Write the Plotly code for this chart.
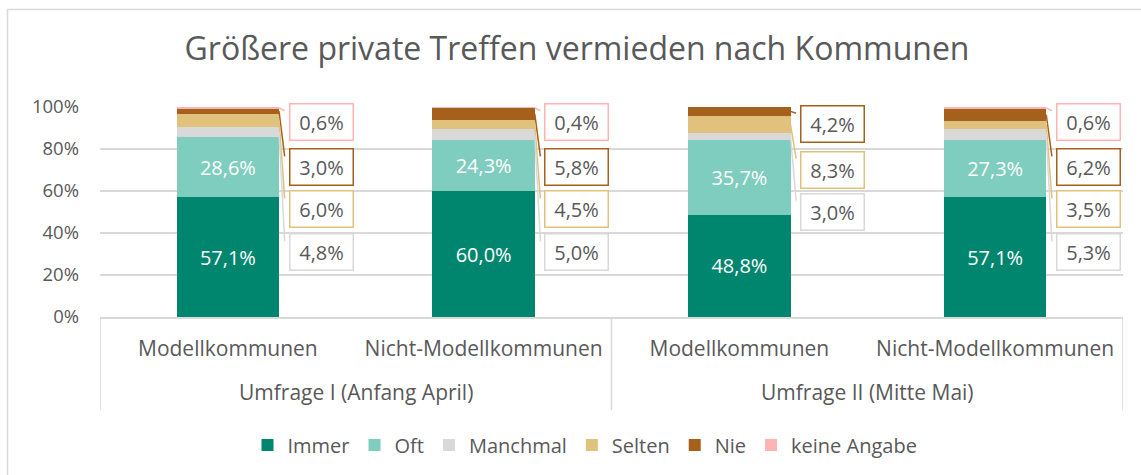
import plotly.graph_objects as go

# ---------------- data ----------------
survey_labels = ["Umfrage I (Anfang April)", "Umfrage II (Mitte Mai)"]
groups = ["Modellkommunen", "Nicht-Modellkommunen",
          "Modellkommunen", "Nicht-Modellkommunen"]
series_names = ["Immer", "Oft", "Manchmal", "Selten", "Nie", "keine Angabe"]
immer = [57.1, 60.0, 48.8, 57.1]
oft = [28.6, 24.3, 35.7, 27.3]
manchmal = [4.8, 5.0, 3.0, 5.3]
selten = [6.0, 4.5, 8.3, 3.5]
nie = [3.0, 5.8, 4.2, 6.2]
keine_angabe = [0.6, 0.4, 0.0, 0.6]
y_ticks = [0, 20, 40, 60, 80, 100]
y_tick_labels = ["0%", "20%", "40%", "60%", "80%", "100%"]

# ---------------- style ----------------
colors = ["#00866E", "#7FCDBE", "#D9D9D9", "#E0C27C", "#A5601B", "#FFB3B3"]
TXT = "#595959"
GRID = "#D9D9D9"
FONT = "Open Sans"
values = [immer, oft, manchmal, selten, nie, keine_angabe]
inside = [True, True, False, False, False, False]
# callout box heights (y in %), top to bottom
slots_default = [93.0, 71.3, 51.3, 30.8]
slots_bar = {2: [91.8, 70.2, 50.2]}
BAR_HALF = 0.2
BOX_DX = 0.365
LINE_END_DX = 0.222
LINE_END_DY = 5.2
xpos = list(range(len(groups)))

# plot-area pixel geometry (for paper-relative decorations)
PL, PR, PT, PB = 100, 1123, 107, 317
PH = PB - PT


def py(pix):
    return (PB - pix) / PH


def px(pix):
    return (pix - PL) / (PR - PL)


def fmt(v):
    return f"{v:.1f}".replace(".", ",") + "%"


fig = go.Figure()
for name, vals, col, ins in zip(series_names, values, colors, inside):
    fig.add_trace(go.Bar(
        name=name, x=xpos, y=vals, marker_color=col, marker_line_width=0,
        width=2 * BAR_HALF,
        text=[fmt(v) for v in vals] if ins else None,
        textposition="inside" if ins else "none",
        insidetextanchor="middle", textangle=0,
        textfont=dict(color="white", size=20, family=FONT),
        hoverinfo="skip",
    ))

annotations = []
shapes = []
order_outside = [5, 4, 3, 2]  # keine Angabe, Nie, Selten, Manchmal
for i in range(len(groups)):
    cum = [0]
    for s in range(6):
        cum.append(cum[-1] + values[s][i])
    slots = slots_bar.get(i, slots_default)
    k = 0
    for s in order_outside:
        v = values[s][i]
        if v <= 0:
            continue
        sy = slots[k]
        k += 1
        bordc = colors[s]
        annotations.append(dict(
            x=i + BOX_DX, y=sy, xref="x", yref="y", text=fmt(v), showarrow=False,
            font=dict(size=20, color=TXT, family=FONT),
            bgcolor="white", bordercolor=bordc, borderwidth=1.5, borderpad=1,
            width=60, height=33, align="center", valign="middle"))
        mid = min((cum[s] + cum[s + 1]) / 2, 99.6)
        shapes.append(dict(type="line", xref="x", yref="y",
                           x0=i + BAR_HALF, y0=mid, x1=i + LINE_END_DX, y1=sy + LINE_END_DY,
                           line=dict(color=bordc, width=1.5)))

# outer category labels
for j, lab in enumerate(survey_labels):
    annotations.append(dict(x=2 * j + 0.5, y=py(392), xref="x", yref="paper", text=lab,
                            showarrow=False, yanchor="middle",
                            font=dict(size=21, color=TXT, family=FONT)))
# category dividers
for xd in [-0.5, 1.5, 3.5]:
    shapes.append(dict(type="line", xref="x", yref="paper", x0=xd, x1=xd,
                       y0=0, y1=py(410), line=dict(color=GRID, width=1.5)))

# chart border
shapes.append(dict(type="rect", xref="paper", yref="paper",
                   x0=px(7.5), x1=px(1150), y0=py(480), y1=py(9.5),
                   line=dict(color=GRID, width=1.5), fillcolor="rgba(0,0,0,0)", layer="below"))

fig.update_layout(
    width=1141, height=475,
    barmode="stack",
    paper_bgcolor="white", plot_bgcolor="white",
    margin=dict(l=PL, r=1141 - PR, t=PT, b=475 - PB, autoexpand=False),
    font=dict(family=FONT, color=TXT, size=18),
    title=dict(text="Größere private Treffen vermieden nach Kommunen",
               x=577 / 1141, xref="container", xanchor="center",
               y=1 - 49 / 475, yref="container", yanchor="middle",
               font=dict(size=32, color=TXT, family=FONT)),
    xaxis=dict(range=[-0.5, 3.5], tickvals=xpos, ticktext=groups,
               showline=True, linecolor=GRID, linewidth=1.5,
               tickfont=dict(size=21, color=TXT, family=FONT),
               showgrid=False, zeroline=False, ticks="", ticklabelstandoff=12,
               fixedrange=True),
    yaxis=dict(range=[0, 100], tickvals=y_ticks, ticktext=y_tick_labels,
               showgrid=True, gridcolor=GRID, gridwidth=1.5, zeroline=False,
               showline=False, ticks="", ticklabelstandoff=20,
               tickfont=dict(size=18.5, color=TXT, family=FONT), fixedrange=True),
    legend=dict(orientation="h", xref="container", yref="container",
                x=585 / 1141, xanchor="center", y=1 - 445 / 475, yanchor="middle",
                font=dict(size=20, color=TXT, family=FONT), traceorder="normal",
                itemwidth=30, bgcolor="rgba(0,0,0,0)"),
    annotations=annotations, shapes=shapes,
    showlegend=True,
)

fig.write_html("out.html", config={"displayModeBar": False},
               post_script="document.body.style.margin='0px';")
